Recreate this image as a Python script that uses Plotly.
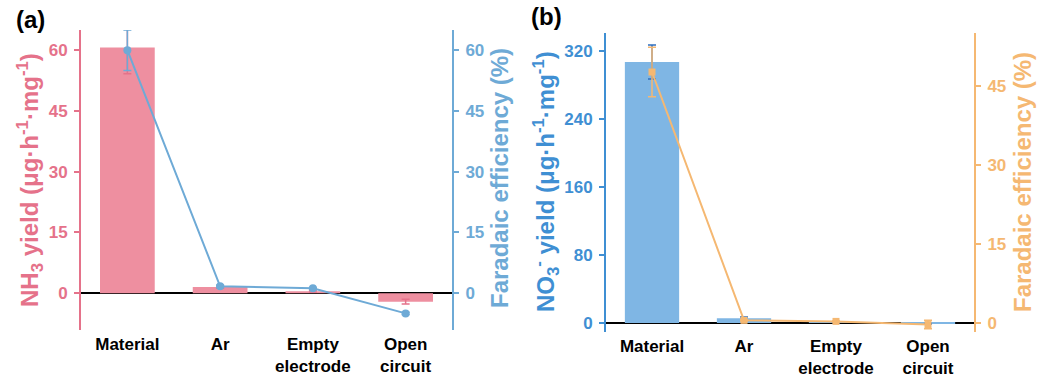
import plotly.graph_objects as go

categories = ["Material", "Ar", "Empty<br>electrode", "Open<br>circuit"]

# Panel (a)
nh3_yield = [60.7, 1.5, 0.5, -2.1]
nh3_yield_err = [6.5, 0.3, 0.2, 0.6]
nh3_fe = [60.0, 1.7, 1.2, -5.0]
nh3_fe_err = [5.0, 0.3, 0.2, 0.3]

# Panel (b)
no3_yield = [307.0, 5.5, 0.5, -1.0]
no3_yield_err = [20.0, 1.5, 0.3, 0.3]
no3_fe = [47.6, 0.5, 0.3, -0.3]
no3_fe_err = [4.7, 0.1, 0.1, 0.8]

yticks_a = [0, 15, 30, 45, 60]
yticks_b_left = [0, 80, 160, 240, 320]
yticks_b_right = [0, 15, 30, 45]

H = 379.0
W = 1042.0

PINK = "#EE8FA0"
PINK_AX = "#E5728A"
LBLUE = "#6EAAD6"
BLUE_BAR = "#7FB6E4"
BLUE_AX = "#3F8FD3"
ORANGE = "#F5B872"

FONT = "Liberation Sans, Arial, sans-serif"

fig = go.Figure()

# ---- Panel (a)
fig.add_trace(go.Bar(
    x=categories, y=nh3_yield, width=0.59,
    marker=dict(color=PINK, line=dict(width=0)),
    error_y=dict(type="data", array=nh3_yield_err, color=PINK_AX, thickness=1.5, width=4),
    xaxis="x", yaxis="y", showlegend=False))
fig.add_trace(go.Scatter(
    x=categories, y=nh3_fe, mode="lines+markers",
    line=dict(color=LBLUE, width=2),
    marker=dict(color=LBLUE, size=8, symbol="circle"),
    error_y=dict(type="data", array=nh3_fe_err, color=LBLUE, thickness=1.5, width=4),
    xaxis="x", yaxis="y2", showlegend=False))

# ---- Panel (b)
fig.add_trace(go.Bar(
    x=categories, y=no3_yield, width=0.59,
    marker=dict(color=BLUE_BAR, line=dict(width=0)),
    error_y=dict(type="data", array=no3_yield_err, color="#2F6FBF", thickness=1.5, width=4),
    xaxis="x2", yaxis="y3", showlegend=False))
fig.add_trace(go.Scatter(
    x=categories, y=no3_fe, mode="lines+markers",
    line=dict(color=ORANGE, width=2),
    marker=dict(color=ORANGE, size=7, symbol="square"),
    error_y=dict(type="data", array=no3_fe_err, color=ORANGE, thickness=1.5, width=4),
    xaxis="x2", yaxis="y4", showlegend=False))

dom_ax = [81 / W, 452 / W]
dom_ay = [1 - 330 / H, 1 - 30 / H]
dom_bx = [606 / W, 974 / W]
dom_by = [1 - 332 / H, 1 - 33 / H]

xcommon = dict(range=[-0.5, 3.5], showline=False, showgrid=False, zeroline=False,
               ticks="", ticklabelstandoff=2,
               tickfont=dict(family=FONT, size=17, color="black", weight="bold"))

def yax(color, tickvals, rng, side, anchor, domain, overlaying=None, zl=False):
    d = dict(
        domain=domain, range=rng, side=side, anchor=anchor,
        tickvals=tickvals, ticktext=[str(v) for v in tickvals],
        showline=True, linecolor=color, linewidth=2,
        ticks="outside", ticklen=5, tickwidth=2, tickcolor=color,
        ticklabelstandoff=3,
        tickfont=dict(family=FONT, size=17, color=color, weight="bold"),
        showgrid=False, zeroline=zl, zerolinecolor="black", zerolinewidth=2,
    )
    if overlaying:
        d["overlaying"] = overlaying
    return d

def vtitle(text, xpx, ypx, color):
    return dict(text=text, x=xpx / W, y=1 - ypx / H, xref="paper", yref="paper",
                xanchor="center", yanchor="middle", showarrow=False, textangle=-90,
                font=dict(family=FONT, size=24, color=color, weight="bold"))

fig.update_layout(
    width=1042, height=379,
    margin=dict(l=0, r=0, t=0, b=0),
    paper_bgcolor="white", plot_bgcolor="rgba(0,0,0,0)",
    barmode="overlay",
    xaxis=dict(domain=dom_ax, anchor="y", **xcommon),
    xaxis2=dict(domain=dom_bx, anchor="y3", **xcommon),
    yaxis=yax(PINK_AX, yticks_a, [-9.1, 65.0], "left", "x", dom_ay, zl=True),
    yaxis2=yax(LBLUE, yticks_a, [-9.1, 65.0], "right", "x", dom_ay, overlaying="y"),
    yaxis3=yax(BLUE_AX, yticks_b_left, [-10.6, 341.0], "left", "x2", dom_by, zl=True),
    yaxis4=yax(ORANGE, yticks_b_right, [-1.71, 55.0], "right", "x2", dom_by, overlaying="y3"),
    annotations=[
        dict(text="<b>(a)</b>", x=14 / W, y=1 - 19 / H, xref="paper", yref="paper",
             xanchor="left", yanchor="middle", showarrow=False,
             font=dict(family=FONT, size=24, color="black")),
        dict(text="<b>(b)</b>", x=529 / W, y=1 - 17 / H, xref="paper", yref="paper",
             xanchor="left", yanchor="middle", showarrow=False,
             font=dict(family=FONT, size=24, color="black")),
        vtitle("NH<sub>3</sub> yield (μg·h<sup>-1</sup>·mg<sup>-1</sup>)", 30, 180, PINK_AX),
        vtitle("Faradaic efficiency (%)", 500, 178, LBLUE),
        vtitle("NO<sub>3</sub><sup>-</sup> yield (μg·h<sup>-1</sup>·mg<sup>-1</sup>)", 546, 182, BLUE_AX),
        vtitle("Faradaic efficiency (%)", 1022, 182, ORANGE),
    ],
)

fig.write_html("out.html", config={"displayModeBar": False},
               post_script="document.body.style.margin='0';")
